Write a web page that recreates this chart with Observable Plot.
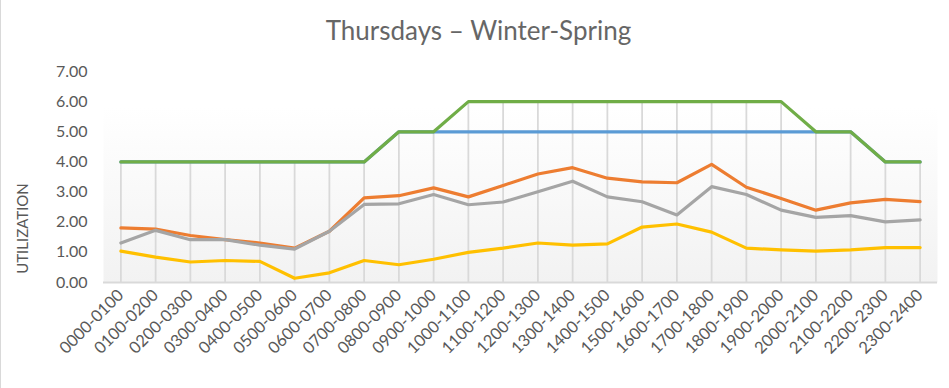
<!DOCTYPE html>
<html>
<head>
<meta charset="utf-8">
<script src="https://cdn.jsdelivr.net/npm/d3@7"></script>
<script src="https://cdn.jsdelivr.net/npm/@observablehq/plot@0.6"></script>
<style>
  html, body { margin: 0; padding: 0; background: #fff; }
  #wrap { width: 948px; height: 388px; border-left: 1px solid #d9d9d9; position: relative; overflow: hidden; }
  #title { height: 56px; line-height: 60px; text-align: center; font-family: Lato, "Open Sans", sans-serif; font-size: 26px; color: #666666; padding-left: 7px; }
</style>
</head>
<body>
<div id="wrap">
  <div id="title">Thursdays – Winter-Spring</div>
  <div id="chart"></div>
</div>
<script>
const categories = ["0000-0100","0100-0200","0200-0300","0300-0400","0400-0500","0500-0600","0600-0700","0700-0800","0800-0900","0900-1000","1000-1100","1100-1200","1200-1300","1300-1400","1400-1500","1500-1600","1600-1700","1700-1800","1800-1900","1900-2000","2000-2100","2100-2200","2200-2300","2300-2400"];
const seriesNames = ["Series1", "Series2", "Series3", "Series4", "Series5"];
const blue   = [4,4,4,4,4,4,4,4,5,5,5,5,5,5,5,5,5,5,5,5,5,5,4,4];
const orange = [1.81,1.77,1.56,1.42,1.31,1.14,1.70,2.81,2.88,3.14,2.84,3.22,3.60,3.81,3.46,3.34,3.31,3.92,3.16,2.79,2.40,2.64,2.76,2.68];
const gray   = [1.31,1.73,1.42,1.42,1.24,1.11,1.70,2.59,2.61,2.92,2.58,2.67,3.01,3.36,2.84,2.68,2.24,3.18,2.92,2.40,2.16,2.22,2.01,2.08];
const yellow = [1.04,0.84,0.68,0.73,0.70,0.14,0.32,0.73,0.59,0.77,1.00,1.14,1.31,1.24,1.28,1.84,1.94,1.67,1.14,1.08,1.04,1.08,1.16,1.16];
const green  = [4,4,4,4,4,4,4,4,5,5,6,6,6,6,6,6,6,6,6,6,5,5,4,4];
const yTicks = [0,1,2,3,4,5,6,7];
const colors = ["#5B9BD5", "#ED7D31", "#A5A5A5", "#FFC000", "#70AD47"];

const allSeries = [blue, orange, gray, yellow, green];
const rows = [];
allSeries.forEach((vals, s) => vals.forEach((v, i) => rows.push({series: seriesNames[s], cat: categories[i], value: v})));
const drops = categories.map((c, i) => ({cat: c, top: d3.max(allSeries, a => a[i])}));

const font = "Lato, 'Open Sans', sans-serif";

const chart = Plot.plot({
  width: 948,
  height: 332,
  marginLeft: 102,
  marginRight: 12,
  marginTop: 15,
  marginBottom: 106,
  style: {fontFamily: font, fontSize: "16px", color: "#595959", background: "transparent", overflow: "visible"},
  x: {type: "point", domain: categories, padding: 0.5, round: false, label: null},
  y: {domain: [0, 7], label: null},
  color: {domain: seriesNames, range: colors},
  marks: [
    Plot.frame({fill: "url(#bgGrad)", stroke: "none"}),
    Plot.ruleX(drops, {x: "cat", y1: 0, y2: "top", stroke: "#d9d9d9", strokeWidth: 1.8}),
    Plot.ruleY([0], {stroke: "#d9d9d9", strokeWidth: 1.8}),
    Plot.axisY({ticks: yTicks, tickFormat: d3.format(".2f"), tickSize: 0, tickPadding: 16, fontSize: 16, fill: "#595959"}),
    Plot.axisX({tickSize: 0, tickPadding: 10, tickRotate: -45, fontSize: 16.5, fill: "#595959"}),
    ...seriesNames.map(name =>
      Plot.line(rows.filter(r => r.series === name), {x: "cat", y: "value", stroke: "series", strokeWidth: 3.2, strokeLinejoin: "round", strokeLinecap: "round"})
    )
  ]
});

const svg = d3.select(chart);
const defs = svg.insert("defs", ":first-child");
const grad = defs.append("linearGradient").attr("id", "bgGrad").attr("x1", 0).attr("y1", 0).attr("x2", 0).attr("y2", 1);
grad.append("stop").attr("offset", "0.17").attr("stop-color", "#ffffff");
grad.append("stop").attr("offset", "1").attr("stop-color", "#f2f2f2");

svg.append("text")
  .attr("transform", "translate(23,172.5) rotate(-90)")
  .attr("text-anchor", "middle")
  .attr("dominant-baseline", "middle")
  .attr("font-family", font)
  .attr("font-size", 15)
  .attr("fill", "#595959")
  .text("UTILIZATION");

document.getElementById("chart").appendChild(chart);
</script>
</body>
</html>
